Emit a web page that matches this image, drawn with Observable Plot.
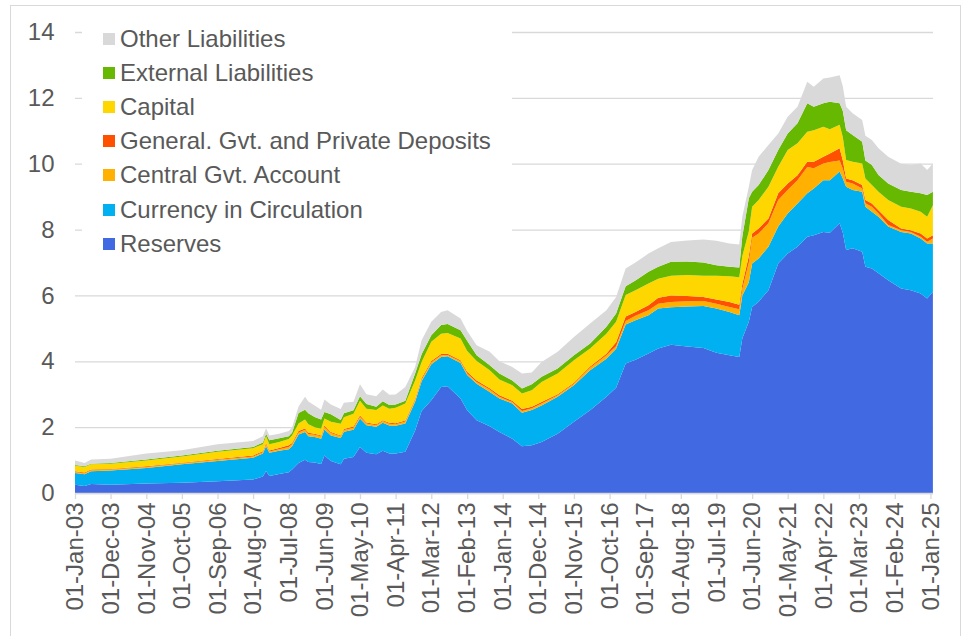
<!DOCTYPE html>
<html>
<head>
<meta charset="utf-8">
<script src="https://cdn.jsdelivr.net/npm/d3@7"></script>
<script src="https://cdn.jsdelivr.net/npm/@observablehq/plot@0.6"></script>
<style>
html, body { margin: 0; padding: 0; background: #fff; overflow: hidden; width: 963px; height: 636px; }
#wrap { position: relative; width: 963px; height: 636px; }
#border { position: absolute; left: 10px; top: 5px; width: 951px; height: 640px; border: 1px solid #d9d9d9; box-sizing: border-box; pointer-events: none; }
#chart { position: absolute; left: 0; top: 0; }
#legend { position: absolute; left: 82px; top: 20px; width: 430px; height: 243px; background: #fff;
  font-family: "Liberation Sans", Arial, sans-serif; font-size: 24px; color: #595959; }
.item { position: absolute; left: 0; height: 34px; line-height: 34px; white-space: nowrap; }
.sw { position: absolute; left: 21px; top: 11px; width: 12px; height: 12px; }
.lab { position: absolute; left: 38px; top: 0; }
</style>
</head>
<body>
<div id="wrap">
  <div id="chart"></div>
  <div id="legend"></div>
  <div id="border"></div>
</div>
<script>
// ---- data (trillions) ----
const dates = [
  "2003-01-01","2003-04-01","2003-06-01","2003-12-01","2004-11-01","2005-10-01","2006-09-01","2007-08-01",
  "2007-11-01","2007-12-01","2008-01-01","2008-04-01","2008-07-01","2008-08-01","2008-10-01","2008-12-01",
  "2009-01-01","2009-03-01","2009-05-01","2009-06-01","2009-08-01","2009-11-01","2009-12-01","2010-03-01",
  "2010-05-01","2010-07-01","2010-10-01","2010-12-01","2011-02-01","2011-04-01","2011-07-01","2011-10-01",
  "2011-12-01","2012-03-01","2012-06-01","2012-08-01","2012-12-01","2013-02-01","2013-05-01","2013-09-01",
  "2013-12-01","2014-04-01","2014-07-01","2014-10-01","2015-01-01","2015-06-01","2015-11-01","2016-04-01",
  "2016-09-01","2016-12-01","2017-03-01","2017-06-01","2017-10-01","2018-01-01","2018-05-01","2018-10-01",
  "2019-03-01","2019-07-01","2019-11-01","2020-02-01","2020-03-01","2020-05-01","2020-06-01","2020-08-01",
  "2020-11-01","2021-02-01","2021-05-01","2021-08-01","2021-11-01","2022-01-01","2022-04-01","2022-06-01",
  "2022-09-01","2022-10-01","2022-11-01","2023-01-01","2023-04-01","2023-05-01","2023-07-01","2023-09-01",
  "2023-12-01","2024-04-01","2024-07-01","2024-10-01","2024-12-01","2025-01-24"
];
const reserves = [
  .25,.21,.27,.25,.29,.31,.36,.41, .50,.67,.52,.58,.63,.71,.91,1.01,
  .94,.93,.88,1.14,.97,.87,1.04,1.09, 1.40,1.22,1.18,1.28,1.20,1.20,1.25,1.90,
  2.49,2.82,3.22,3.24,2.87,2.51,2.21,2.03, 1.85,1.65,1.42,1.45,1.55,1.80,2.16,2.51,
  2.92,3.20,3.93,4.05,4.24,4.39,4.50,4.45, 4.40,4.26,4.18,4.13,4.70,5.20,5.65,5.81,
  6.16,6.97,7.27,7.48,7.78,7.83,7.93,7.90, 8.19,7.90,7.38,7.43,7.33,6.87,6.82,6.67,
  6.46,6.21,6.16,6.06,5.91,6.11
];
const currency = [
  .36,.36,.39,.43,.47,.56,.61,.66, .70,.75,.70,.70,.70,.71,.87,.84,
  .78,.77,.77,.79,.78,.80,.82,.83, .86,.84,.83,.85,.85,.84,.86,.87,
  .90,1.09,.91,.91,1.08,1.07,1.11,1.04, 1.02,1.07,1.02,1.07,1.11,1.12,1.11,1.22,
  1.16,1.18,1.19,1.20,1.16,1.21,1.14,1.21, 1.28,1.34,1.32,1.27,1.30,1.20,1.32,1.31,
  1.32,1.12,1.22,1.31,1.32,1.42,1.57,1.60, 1.57,1.65,1.92,1.77,1.82,1.82,1.72,1.72,
  1.63,1.72,1.72,1.67,1.67,1.47
];
const centralGvt = [
  .03,.03,.03,.03,.03,.03,.04,.04, .04,.06,.04,.05,.07,.06,.06,.07,
  .07,.07,.07,.08,.07,.05,.05,.06, .05,.05,.05,.06,.05,.05,.06,.07,
  .06,.06,.05,.04,.05,.05,.05,.07, .05,.04,.05,.05,.06,.05,.05,.07,
  .10,.08,.10,.13,.15,.15,.16,.16, .15,.15,.15,.18,.20,.60,.78,.76,
  .71,.81,.71,.71,.80,.61,.51,.55, .34,.30,.15,.20,.10,.11,.15,.10,
  .05,.05,.05,.05,.05,.15
];
const generalDeposits = [
  .02,.02,.02,.02,.02,.02,.02,.03, .03,.04,.03,.04,.05,.04,.04,.04,
  .04,.03,.03,.04,.03,.03,.03,.04, .04,.03,.03,.02,.03,.03,.03,.03,
  .04,.04,.04,.04,.03,.05,.05,.04, .05,.04,.06,.05,.04,.03,.03,.04,
  .05,.12,.14,.12,.15,.18,.20,.16, .12,.13,.15,.14,.15,.20,.13,.15,
  .15,.20,.20,.15,.16,.20,.20,.26, .37,.25,.10,.10,.10,.10,.10,.10,
  .15,.05,.05,.10,.10,.10
];
const capital = [
  .17,.17,.16,.16,.18,.19,.22,.22, .21,.20,.19,.18,.19,.23,.23,.27,
  .26,.20,.20,.21,.31,.35,.36,.39, .45,.42,.43,.45,.43,.47,.52,.55,
  .49,.58,.62,.63,.66,.63,.59,.55, .48,.47,.47,.50,.61,.63,.68,.55,
  .61,.62,.65,.66,.66,.58,.60,.64, .65,.72,.78,.83,.85,.75,.81,.87,
  .96,.81,1.02,.97,.91,.96,.91,.74, .71,.70,.56,.56,.66,.65,.56,.56,
  .61,.66,.66,.66,.66,.91
];
const external = [
  .02,.02,.02,.02,.03,.03,.03,.04, .05,.08,.12,.11,.08,.08,.32,.30,
  .33,.31,.28,.20,.23,.12,.12,.10, .14,.14,.10,.13,.11,.10,.08,.21,
  .23,.20,.26,.27,.25,.31,.17,.15, .18,.15,.15,.18,.16,.15,.15,.15,
  .21,.25,.27,.29,.36,.36,.42,.41, .40,.32,.29,.30,.60,1.00,.46,.45,
  .51,.51,.50,.61,.87,.71,.72,.83, .66,.80,.91,.81,.66,.55,.61,.51,
  .50,.51,.51,.56,.66,.41
];
const other = [
  .14,.10,.13,.13,.18,.16,.20,.18, .19,.17,.15,.14,.16,.16,.20,.39,
  .36,.35,.30,.38,.30,.33,.32,.26, .36,.30,.32,.35,.31,.30,.42,.20,
  .43,.41,.40,.42,.36,.30,.31,.41, .37,.41,.46,.36,.45,.51,.56,.61,
  .50,.50,.54,.55,.55,.56,.60,.64, .70,.74,.71,.70,.60,.35,.66,.86,
  .76,.50,.51,.50,.65,.61,.75,.74, .85,.75,.71,.66,.66,.75,.76,.81,
  .81,.80,.81,.91,.76,.86
];
const seriesNames = [
  "Reserves", "Currency in Circulation", "Central Gvt. Account",
  "General. Gvt. and Private Deposits", "Capital", "External Liabilities", "Other Liabilities"
];
const seriesColors = ["#4169E1", "#00B0F0", "#FFB000", "#FF5000", "#FFD700", "#66B800", "#D9D9D9"];
const tickLabels = [
  "01-Jan-03","01-Dec-03","01-Nov-04","01-Oct-05","01-Sep-06","01-Aug-07","01-Jul-08","01-Jun-09",
  "01-May-10","01-Apr-11","01-Mar-12","01-Feb-13","01-Jan-14","01-Dec-14","01-Nov-15","01-Oct-16",
  "01-Sep-17","01-Aug-18","01-Jul-19","01-Jun-20","01-May-21","01-Apr-22","01-Mar-23","01-Feb-24","01-Jan-25"
];
const yTicks = [0, 2, 4, 6, 8, 10, 12, 14];

// ---- build tidy table ----
const seriesValues = [reserves, currency, centralGvt, generalDeposits, capital, external, other];
const rows = [];
seriesNames.forEach((name, i) => {
  dates.forEach((d, j) => rows.push({date: new Date(d + "T00:00:00Z"), series: name, value: seriesValues[i][j]}));
});
const parseTick = d3.utcParse("%d-%b-%y");
const fmtTick = d3.utcFormat("%d-%b-%y");
const xTicks = tickLabels.map(parseTick);

const textColor = "#595959";
const gridColor = "#d9d9d9";

const chart = Plot.plot({
  width: 963,
  height: 636,
  marginLeft: 75,
  marginRight: 30,
  marginTop: 32,
  marginBottom: 143,
  style: {fontFamily: '"Liberation Sans", Arial, sans-serif', background: "transparent", color: textColor},
  x: {type: "utc", domain: [new Date("2003-01-01T00:00:00Z"), new Date("2025-01-25T00:00:00Z")]},
  y: {domain: [0, 14]},
  color: {domain: seriesNames, range: seriesColors},
  marks: [
    Plot.gridY(yTicks, {stroke: gridColor, strokeOpacity: 1, strokeWidth: 1.3}),
    Plot.areaY(rows, {x: "date", y: "value", z: "series", fill: "series", order: seriesNames}),
    Plot.ruleY([0], {stroke: gridColor, strokeWidth: 1.3}),
    Plot.axisX(xTicks, {tickFormat: fmtTick, tickRotate: -90, tickSize: 6, tickPadding: 3,
      stroke: gridColor, strokeWidth: 1.3, fill: textColor, fontSize: 24, label: null}),
    Plot.axisY(yTicks, {tickSize: 0, tickPadding: 21, fill: textColor, fontSize: 24, label: null})
  ]
});
document.getElementById("chart").appendChild(chart);

// ---- legend (top to bottom: reversed stack order) ----
const legend = document.getElementById("legend");
const legendOrder = seriesNames.map((n, i) => i).reverse();
legendOrder.forEach((idx, k) => {
  const item = document.createElement("div");
  item.className = "item";
  item.style.top = (1.5 + k * 34.2) + "px";
  const sw = document.createElement("span");
  sw.className = "sw";
  sw.style.background = seriesColors[idx];
  const lab = document.createElement("span");
  lab.className = "lab";
  lab.textContent = seriesNames[idx];
  item.appendChild(sw);
  item.appendChild(lab);
  legend.appendChild(item);
});
</script>
</body>
</html>
